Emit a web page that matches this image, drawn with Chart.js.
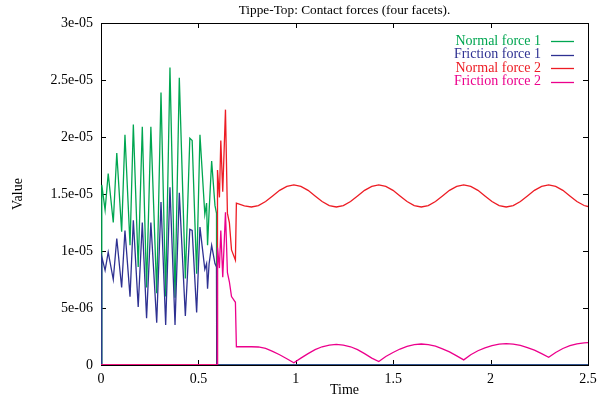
<!DOCTYPE html>
<html>
<head>
<meta charset="utf-8">
<title>Tippe-Top: Contact forces (four facets).</title>
<script src="https://cdn.jsdelivr.net/npm/chart.js@4.4.1/dist/chart.umd.min.js"></script>
<style>
  html, body { margin: 0; padding: 0; background: #fff; }
  canvas { display: block; }
</style>
</head>
<body>
<canvas id="myChart" width="607" height="403"></canvas>
<script>
// values are in units of 1e-5
const yUnit = 1e-5;

// facet 1 (slipping phase only)
const t1 = [0, 0.004, 0.021, 0.037, 0.063, 0.081, 0.106, 0.123, 0.149, 0.166, 0.191, 0.212,
    0.234, 0.256, 0.286, 0.308, 0.332, 0.354, 0.380, 0.402, 0.433, 0.456, 0.468, 0.491,
    0.508, 0.533, 0.542, 0.547, 0.555, 0.568, 0.585, 0.593, 0.594, 2.5];
const normal1 = [0, 1.58, 1.36, 1.68, 1.25, 1.86, 1.17, 2.02, 1.05, 2.11, 0.86, 2.09,
    0.68, 2.09, 0.63, 2.39, 0.60, 2.61, 0.59, 2.52, 0.76, 1.99, 1.97, 0.80,
    2.02, 1.32, 1.42, 1.05, 1.35, 1.79, 1.40, 1.33, 0, 0];
const friction1 = [0, 0.95, 0.83, 0.99, 0.75, 1.11, 0.68, 1.18, 0.60, 1.27, 0.51, 1.25,
    0.41, 1.25, 0.37, 1.43, 0.35, 1.56, 0.35, 1.51, 0.43, 1.19, 1.18, 0.46,
    1.21, 0.84, 0.89, 0.67, 0.89, 1.05, 0.89, 0.86, 0, 0];

// facet 2
const t2 = [0, 0.596, 0.598, 0.608, 0.615, 0.625, 0.639, 0.649, 0.659, 0.670, 0.690, 0.695,
    0.736, 0.772, 0.808, 0.845, 0.881, 0.917, 0.954, 0.990, 1.026, 1.063, 1.099, 1.135,
    1.172, 1.208, 1.244, 1.281, 1.317, 1.353, 1.390, 1.426, 1.462, 1.499, 1.535, 1.571,
    1.608, 1.644, 1.680, 1.717, 1.753, 1.789, 1.826, 1.862, 1.898, 1.935, 1.971, 2.007,
    2.044, 2.080, 2.116, 2.153, 2.189, 2.225, 2.262, 2.298, 2.334, 2.371, 2.407, 2.443,
    2.480, 2.500];
const normal2 = [0, 0, 1.71, 1.47, 1.97, 1.52, 2.24, 1.33, 1.25, 1.01, 0.92, 1.42,
    1.395, 1.386, 1.399, 1.434, 1.483, 1.532, 1.567, 1.580, 1.567, 1.532, 1.483, 1.434,
    1.399, 1.386, 1.399, 1.434, 1.483, 1.532, 1.567, 1.580, 1.567, 1.532, 1.483, 1.434,
    1.399, 1.386, 1.399, 1.434, 1.483, 1.532, 1.567, 1.580, 1.567, 1.532, 1.483, 1.434,
    1.399, 1.386, 1.399, 1.434, 1.483, 1.532, 1.567, 1.580, 1.567, 1.532, 1.483, 1.434,
    1.399, 1.390];
const friction2 = [0, 0, 1.03, 0.85, 1.18, 0.77, 1.34, 0.81, 0.73, 0.60, 0.55, 0.16,
    0.16, 0.16, 0.158, 0.145, 0.12, 0.09, 0.055, 0.02, 0.06, 0.10, 0.135, 0.16,
    0.175, 0.181, 0.175, 0.16, 0.135, 0.10, 0.06, 0.03, 0.075, 0.11, 0.14, 0.163,
    0.178, 0.184, 0.178, 0.165, 0.142, 0.115, 0.08, 0.045, 0.09, 0.125, 0.15, 0.17,
    0.183, 0.188, 0.184, 0.172, 0.153, 0.13, 0.10, 0.067, 0.11, 0.145, 0.17, 0.186,
    0.194, 0.196];

const xTicks = [0, 0.5, 1, 1.5, 2, 2.5];
const xTickLabels = ['0', '0.5', '1', '1.5', '2', '2.5'];
const yTicks = [0, 5e-6, 1e-5, 1.5e-5, 2e-5, 2.5e-5, 3e-5];
const yTickLabels = ['0', '5e-06', '1e-05', '1.5e-05', '2e-05', '2.5e-05', '3e-05'];

const labels = ['Normal force 1', 'Friction force 1', 'Normal force 2', 'Friction force 2'];
const colors = ['#00a651', '#2e3192', '#ed1c24', '#ec008c'];

const serif = 'Liberation Serif, Times New Roman, serif';

function points(ts, vs) {
    return ts.map((t, i) => ({x: t, y: vs[i] * yUnit}));
}

const series = [points(t1, normal1), points(t1, friction1), points(t2, normal2), points(t2, friction2)];

const datasets = series.map((data, i) => ({
    label: labels[i],
    data,
    borderColor: colors[i],
    borderWidth: 1.3,
    pointRadius: 0,
    tension: 0,
    fill: false,
    order: 4 - i // later curves on top, like gnuplot
}));

// border, inward ticks on all four sides
const framePlugin = {
    id: 'frame',
    beforeDatasetsDraw(chart) {
        const {ctx, chartArea: a, scales: {x, y}} = chart;
        const tl = 5;
        ctx.save();
        ctx.strokeStyle = '#000';
        ctx.lineWidth = 1;
        ctx.beginPath();
        xTicks.forEach(v => {
            const px = Math.round(x.getPixelForValue(v)) + 0.5;
            ctx.moveTo(px, a.bottom); ctx.lineTo(px, a.bottom - tl);
            ctx.moveTo(px, a.top); ctx.lineTo(px, a.top + tl);
        });
        yTicks.forEach(v => {
            const py = Math.round(y.getPixelForValue(v)) + 0.5;
            ctx.moveTo(a.left, py); ctx.lineTo(a.left + tl, py);
            ctx.moveTo(a.right, py); ctx.lineTo(a.right - tl, py);
        });
        ctx.stroke();
        ctx.strokeRect(a.left + 0.5, a.top + 0.5, a.right - a.left, a.bottom - a.top);
        ctx.restore();
    },
    afterDraw(chart) {
        const {ctx, chartArea: a} = chart;
        ctx.save();
        ctx.textBaseline = 'middle';
        // title
        ctx.font = '13.3px ' + serif;
        ctx.fillStyle = '#000';
        ctx.textAlign = 'center';
        ctx.fillText('Tippe-Top: Contact forces (four facets).', (a.left + a.right) / 2, 11);
        // legend, sample line on the right of the text
        ctx.font = '14px ' + serif;
        ctx.textAlign = 'right';
        ctx.lineWidth = 1.3;
        chart.data.datasets.forEach((ds, i) => {
            const ly = 41 + i * 13.5;
            ctx.fillStyle = ds.borderColor;
            ctx.fillText(ds.label, 541, ly);
            ctx.strokeStyle = ds.borderColor;
            ctx.beginPath();
            ctx.moveTo(551, Math.round(ly) + 0.5);
            ctx.lineTo(574, Math.round(ly) + 0.5);
            ctx.stroke();
        });
        ctx.restore();
    }
};

const config = {
    type: 'line',
    data: {datasets},
    options: {
        responsive: false,
        animation: false,
        parsing: false,
        layout: {padding: {left: 0, right: 19, top: 23, bottom: 0}},
        plugins: {
            legend: {display: false},
            title: {display: false},
            tooltip: {enabled: false}
        },
        scales: {
            x: {
                type: 'linear',
                min: 0,
                max: 2.5,
                afterBuildTicks: s => { s.ticks = xTicks.map(v => ({value: v})); },
                afterFit: s => { s.height = 38; },
                grid: {display: false, drawTicks: false},
                border: {display: false},
                ticks: {
                    callback: (v, i) => xTickLabels[i],
                    color: '#000',
                    font: {family: serif, size: 14},
                    padding: 6,
                    maxRotation: 0,
                    autoSkip: false
                },
                title: {
                    display: true,
                    text: 'Time',
                    color: '#000',
                    font: {family: serif, size: 14},
                    padding: {top: 0, bottom: 4}
                }
            },
            y: {
                type: 'linear',
                min: 0,
                max: 3e-5,
                afterBuildTicks: s => { s.ticks = yTicks.map(v => ({value: v})); },
                afterFit: s => { s.width = 101; },
                grid: {display: false, drawTicks: false},
                border: {display: false},
                ticks: {
                    callback: (v, i) => yTickLabels[i],
                    color: '#000',
                    font: {family: serif, size: 14},
                    padding: 8,
                    autoSkip: false
                },
                title: {
                    display: true,
                    text: 'Value',
                    color: '#000',
                    font: {family: serif, size: 14},
                    padding: {top: 10, bottom: 0}
                }
            }
        }
    },
    plugins: [framePlugin]
};

const myChart = new Chart(document.getElementById('myChart'), config);
</script>
</body>
</html>
